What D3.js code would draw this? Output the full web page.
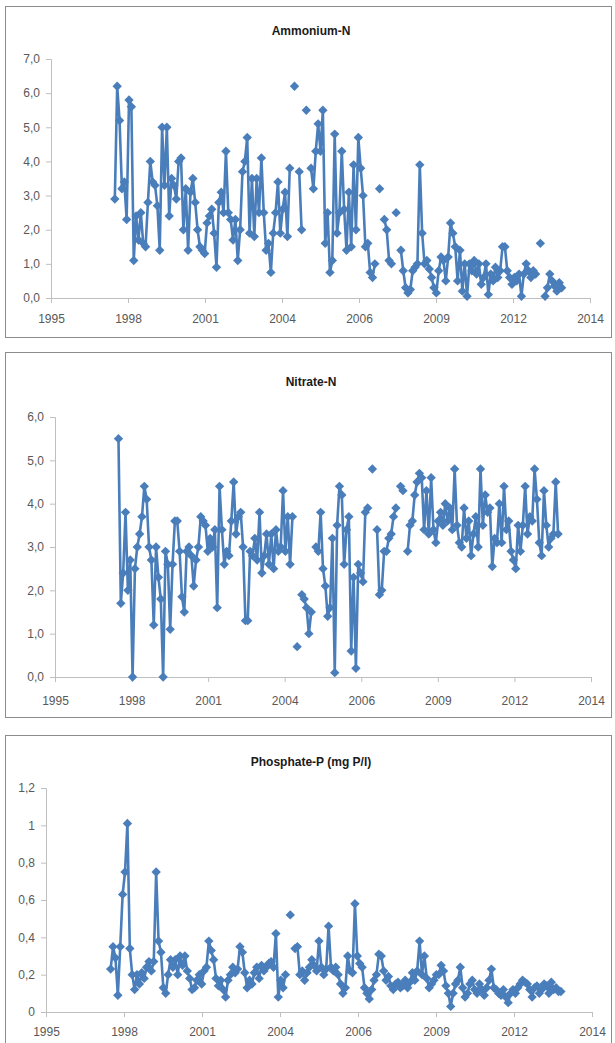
<!DOCTYPE html>
<html><head><meta charset="utf-8">
<script src="https://cdn.jsdelivr.net/npm/d3@7"></script>
<style>
body{margin:0;background:#fff}
svg{display:block}
text{font-family:"Liberation Sans",Arial,sans-serif}
</style>
</head><body>
<svg id="c" width="615" height="1043"></svg>
<script>
// ---- data ----
const tickLabels = ["1995","1998","2001","2004","2006","2009","2012","2014"];
const axisStart = 1995, axisEnd = 2014;
const startYear = 1997.25;          // first (monthly) sample
const titles = ["Ammonium-N","Nitrate-N","Phosphate-P (mg P/l)"];

const ammonium = [
 2.9,6.2,5.2,3.2,3.4,2.3,5.8,5.6,1.1,2.4,
 1.7,2.5,1.6,1.5,2.8,4.0,3.4,3.3,2.7,1.4,
 5.0,3.3,5.0,2.4,3.5,3.3,2.9,4.0,4.1,2.0,
 3.2,1.4,3.1,3.5,2.8,2.0,1.5,1.4,1.3,2.2,
 2.4,2.6,1.9,0.9,2.8,3.1,2.5,4.3,2.5,2.3,
 1.7,2.3,1.1,2.0,3.7,4.0,4.7,1.9,3.5,1.8,
 3.5,2.5,4.1,2.5,1.4,1.6,0.75,1.9,2.5,3.4,
 1.9,2.6,3.1,1.8,3.8,null,6.2,null,3.7,2.0,
 null,5.5,null,3.8,3.2,4.3,5.1,4.3,5.5,1.6,
 2.5,0.75,1.1,4.8,1.9,2.5,4.3,2.6,1.4,3.1,
 1.5,3.9,2.0,4.7,3.8,3.0,1.5,1.6,0.75,0.6,
 1.0,null,3.2,null,2.3,2.0,1.1,1.0,null,2.5,
 null,1.4,0.8,0.3,0.15,0.25,0.8,0.9,1.0,3.9,
 1.9,1.0,1.1,0.85,0.6,0.3,0.15,0.8,1.2,1.1,
 0.5,1.2,2.2,1.9,1.5,0.5,1.4,0.2,1.0,0.05,
 1.0,0.8,1.1,0.7,1.0,0.4,0.6,1.0,0.1,0.7,
 0.5,0.9,0.6,0.8,1.5,1.5,0.8,0.6,0.4,0.6,
 0.5,0.7,0.05,0.7,1.0,0.8,0.6,0.8,0.7,null,
 1.6,null,0.05,0.3,0.7,0.5,0.35,0.2,0.45,0.3
];

const nitrate = [
 5.5,1.7,2.4,3.8,2.0,2.7,0.0,2.5,3.0,3.3,
 3.7,4.4,4.1,3.0,2.7,1.2,3.0,2.3,1.8,0.0,
 2.9,2.6,1.1,2.6,3.6,3.6,2.9,1.85,1.5,2.9,
 3.0,2.8,2.1,2.7,3.0,3.7,3.6,3.5,2.9,3.2,
 3.0,3.4,1.6,4.4,3.4,2.6,2.9,2.8,3.6,4.5,
 3.3,3.7,3.8,3.0,1.3,1.3,2.9,2.8,3.2,2.7,
 3.8,2.4,2.8,3.3,2.6,3.3,2.5,3.4,2.9,3.0,
 4.3,2.9,3.7,2.6,3.7,null,0.7,null,1.9,1.8,
 1.6,1.0,1.5,null,3.0,2.9,3.8,2.5,2.1,1.4,
 1.6,3.2,0.1,3.5,4.4,4.2,2.6,3.4,3.7,0.6,
 2.3,0.2,2.6,2.4,2.2,3.8,3.9,null,4.8,null,
 3.4,1.9,2.0,2.9,2.9,3.2,3.3,3.7,3.9,null,
 4.4,4.3,null,2.9,3.5,3.6,4.2,4.5,4.7,4.6,
 3.4,4.3,3.3,4.6,3.4,3.1,3.6,3.8,3.5,4.0,
 3.6,3.9,3.4,4.8,3.5,3.1,3.0,3.9,3.2,3.6,
 2.8,3.3,3.7,3.0,4.8,3.5,4.2,3.8,3.9,2.55,
 3.2,3.1,4.0,3.1,4.4,3.4,3.6,2.9,2.7,2.5,
 3.5,2.9,3.5,4.4,3.3,3.7,3.6,4.8,4.1,3.1,
 2.8,4.3,3.5,3.0,3.2,3.3,4.5,3.3
];

const phosphate = [
 0.23,0.35,0.29,0.09,0.35,0.63,0.75,1.01,0.34,0.2,
 0.12,0.2,0.15,0.21,0.18,0.24,0.27,0.22,0.27,0.75,
 0.38,0.32,0.13,0.1,0.2,0.28,0.24,0.28,0.2,0.3,
 0.25,0.3,0.22,0.18,0.12,0.13,0.17,0.2,0.15,0.22,
 0.24,0.38,0.33,0.28,0.18,0.14,0.17,0.12,0.08,0.17,
 0.2,0.24,0.21,0.23,0.35,0.32,0.21,0.13,0.17,0.15,
 0.21,0.24,0.18,0.25,0.22,0.24,0.26,0.27,0.24,0.42,
 0.08,0.17,0.13,0.2,null,0.52,null,0.34,0.35,0.2,
 0.22,0.17,0.21,0.24,0.28,0.25,0.22,0.38,0.24,0.2,
 0.23,0.46,0.24,0.22,0.24,0.2,0.15,0.1,0.13,0.3,
 0.22,0.21,0.58,0.3,0.26,0.24,0.13,0.1,0.07,0.12,
 0.17,0.2,0.31,0.3,0.22,0.17,0.19,0.14,0.12,0.15,
 0.16,0.13,0.14,0.17,0.13,0.16,0.21,0.17,0.22,0.38,
 0.2,0.3,0.18,0.13,0.15,0.17,0.2,0.2,0.25,0.22,
 0.14,0.1,0.03,0.1,0.15,0.17,0.24,0.13,0.08,0.1,
 0.15,0.17,0.12,0.1,0.15,0.12,0.09,0.13,0.17,0.23,
 0.13,0.12,0.1,0.09,0.12,0.08,0.05,0.1,0.12,0.1,
 0.13,0.15,0.17,0.16,0.15,0.12,0.08,0.13,0.14,0.1,
 0.12,0.15,0.14,0.1,0.16,0.12,0.13,0.11,0.11
];

const yTicksAmm = [0,1,2,3,4,5,6,7];
const yTicksNit = [0,1,2,3,4,5,6];
const yTicksPho = [0,0.2,0.4,0.6,0.8,1,1.2];

// ---- rendering ----
const loc = d3.formatLocale({decimal:",", thousands:" ", grouping:[3], currency:["",""]});
const panels = [
  {title:titles[0], values:ammonium, ticks:yTicksAmm, fmt:loc.format(".1f"),
   box:[5,6,611,337], x0:51, x1:590, yB:298, yT:59, titleY:35, xLabY:323},
  {title:titles[1], values:nitrate, ticks:yTicksNit, fmt:loc.format(".1f"),
   box:[5,352,611,717], x0:55, x1:591, yB:677, yT:417, titleY:386, xLabY:705},
  {title:titles[2], values:phosphate, ticks:yTicksPho, fmt:loc.format(""),
   box:[5,735,611,1060], x0:46, x1:592, yB:1012, yT:788, titleY:766, xLabY:1036}
];

const svg = d3.select("#c");
const blue = "#4a7ebb";
const axisCol = "#bfbfbf";
const diamond = d3.symbol(d3.symbolSquare, 44);

panels.forEach(p => {
  const g = svg.append("g");
  g.append("rect").attr("x",p.box[0]+0.5).attr("y",p.box[1]+0.5)
    .attr("width",p.box[2]-p.box[0]).attr("height",p.box[3]-p.box[1])
    .attr("fill","#fff").attr("stroke","#8c8c8c").attr("stroke-width",1);

  g.append("text").attr("x",(p.box[0]+p.box[2])/2+3).attr("y",p.titleY)
    .attr("text-anchor","middle").attr("font-size",12).attr("font-weight","bold")
    .attr("fill","#1a1a1a").text(p.title);

  const x = d3.scaleLinear().domain([axisStart, axisEnd]).range([p.x0, p.x1]);
  const y = d3.scaleLinear().domain([0, d3.max(p.ticks)]).range([p.yB, p.yT]);

  // y axis
  const ya = g.append("g").attr("transform",`translate(${p.x0},0)`)
    .call(d3.axisLeft(y).tickValues(p.ticks).tickFormat(p.fmt).tickSize(5).tickPadding(6));
  ya.select(".domain").attr("stroke",axisCol);
  ya.selectAll(".tick line").attr("stroke",axisCol);
  ya.selectAll(".tick text").attr("font-size",12).attr("fill","#595959")
    .attr("font-family","Liberation Sans, Arial, sans-serif");

  // x axis
  const step = (axisEnd-axisStart)/(tickLabels.length-1);
  const xt = tickLabels.map((_,k)=>axisStart+k*step);
  const xa = g.append("g").attr("transform",`translate(0,${p.yB})`)
    .call(d3.axisBottom(x).tickValues(xt).tickFormat((d,k)=>tickLabels[k]).tickSize(5).tickSizeOuter(5).tickPadding(0));
  xa.select(".domain").attr("stroke",axisCol);
  xa.selectAll(".tick line").attr("stroke",axisCol);
  xa.selectAll(".tick text").attr("font-size",12).attr("fill","#595959")
    .attr("font-family","Liberation Sans, Arial, sans-serif")
    .attr("dy",null).attr("y",p.xLabY-p.yB);

  const data = p.values.map((v,i)=>({t:startYear+i/12, v}));
  const line = d3.line().defined(d=>d.v!=null).x(d=>x(d.t)).y(d=>y(d.v));
  g.append("path").datum(data).attr("d",line).attr("fill","none")
    .attr("stroke",blue).attr("stroke-width",2.6).attr("stroke-linejoin","round");
  g.selectAll("path.pt").data(data.filter(d=>d.v!=null)).join("path").attr("class","pt")
    .attr("d",diamond).attr("fill",blue)
    .attr("transform",d=>`translate(${x(d.t)},${y(d.v)}) rotate(45)`);
});
</script>
</body></html>
